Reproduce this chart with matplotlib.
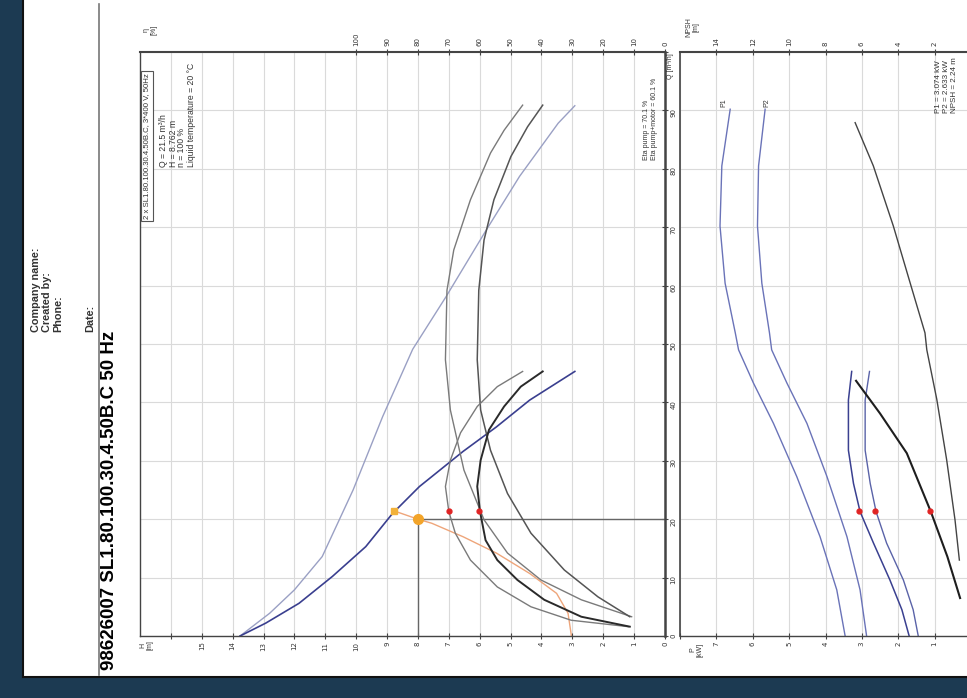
import numpy as np
import matplotlib.pyplot as plt
from matplotlib.patches import Rectangle
from matplotlib.lines import Line2D

# pump curves read off the (rotated) data sheet, Q in m3/h
# single pump QH
q_qh1 = [0, 2.2, 5.6, 10.2, 15.3, 21.0, 25.6, 27.0, 31.6, 35.8, 40.4, 45.3]
h_qh1 = [13.76, 12.93, 11.85, 10.77, 9.69, 8.82, 7.95, 7.62, 6.54, 5.46, 4.38, 2.92]
# two pumps in parallel QH
q_qh2 = [0, 3.9, 7.9, 13.6, 25.0, 37.6, 49.1, 58.1, 69.5, 78.7, 87.8, 90.8]
h_qh2 = [13.76, 12.8, 12.0, 11.1, 10.1, 9.14, 8.17, 7.09, 5.79, 4.71, 3.46, 2.92]
# system curve (orange)
q_sys = [0, 3.9, 7.3, 10.7, 14.2, 17.0, 19.3, 20.0, 21.4]
h_sys = [3.03, 3.14, 3.51, 4.38, 5.46, 6.54, 7.55, 8.0, 8.76]

# efficiency curves [%]
q_eta1 = [1.6, 2.7, 5.0, 8.4, 13.0, 17.6, 21.3, 25.6, 30.1, 34.8, 39.3, 42.7, 45.3]
eta1 = [11.9, 30.4, 43.4, 54.3, 63.0, 67.9, 70.0, 71.1, 69.5, 66.2, 60.8, 54.3, 46.1]
q_eta1m = [1.6, 3.3, 6.2, 9.6, 13.0, 16.4, 21.3, 25.6, 30.1, 35.3, 39.3, 42.7, 45.3]
eta1m = [11.4, 27.1, 39.1, 47.8, 54.3, 58.1, 59.9, 60.8, 59.7, 57.0, 52.1, 46.7, 39.6]
q_eta2 = [3.3, 6.2, 9.6, 14.2, 19.9, 28.4, 38.7, 47.3, 59.2, 66.1, 74.7, 82.7, 86.6, 90.9]
eta2 = [10.8, 27.1, 40.2, 51.0, 58.6, 65.1, 69.5, 71.1, 70.6, 68.4, 63.0, 56.5, 52.1, 46.1]
q_eta2m = [3.3, 6.7, 11.3, 17.6, 24.4, 31.8, 38.7, 47.3, 59.2, 67.8, 74.7, 82.1, 87.2, 90.9]
eta2m = [11.4, 21.7, 32.6, 43.4, 51.0, 56.5, 59.7, 60.8, 60.3, 58.6, 55.4, 49.9, 44.5, 39.6]

# power [kW]
q_p2x = [0, 7.9, 17.0, 27.3, 36.4, 43.3, 49.0, 51.9, 60.4, 70.2, 80.5, 90.2]
p1_2x = [3.46, 3.69, 4.15, 4.79, 5.43, 5.98, 6.39, 6.48, 6.76, 6.90, 6.85, 6.62]
p2_2x = [2.87, 3.05, 3.41, 3.96, 4.51, 5.06, 5.48, 5.54, 5.75, 5.87, 5.84, 5.66]
q_p1x = [0, 4.5, 9.6, 15.9, 21.3, 26.1, 31.8, 40.4, 45.3]
p1_1x = [1.70, 1.90, 2.23, 2.68, 3.05, 3.23, 3.37, 3.37, 3.28]
p2_1x = [1.45, 1.59, 1.86, 2.32, 2.61, 2.77, 2.91, 2.91, 2.79]

# NPSH [m]
q_npsh1 = [6.5, 13.6, 21.3, 31.3, 38.1, 43.7]
npsh1 = [0.60, 1.30, 2.21, 3.53, 5.0, 6.32]
q_npsh2 = [13.0, 19.9, 30.2, 40.5, 49.0, 51.9, 60.5, 70.2, 80.5, 87.9]
npsh2 = [0.64, 0.88, 1.34, 1.88, 2.43, 2.53, 3.35, 4.27, 5.37, 6.37]

# duty point
q_duty, h_duty = 21.4, 8.76
q_req, h_req = 20.0, 8.0
eta_duty = [70.1, 60.1]
p_duty = [3.074, 2.633]
npsh_duty = 2.24

W, HPX = 967, 698
FONT = 'Liberation Sans'


def fx(px):
    return px / W


def fy(py):
    return 1 - py / HPX


fig = plt.figure(figsize=(9.67, 6.98), dpi=100)
fig.patch.set_facecolor('white')

# dark background around the photographed page
bg = '#1c3a52'
fig.patches.append(Rectangle((0, 0), fx(23), 1, transform=fig.transFigure,
                             facecolor=bg, edgecolor='none', zorder=0))
fig.patches.append(Rectangle((0, 0), 1, fy(677), transform=fig.transFigure,
                             facecolor=bg, edgecolor='none', zorder=0))
fig.lines.append(Line2D([fx(23), fx(23)], [fy(677), 1], transform=fig.transFigure,
                        color='#111111', lw=1.5))
fig.lines.append(Line2D([fx(23), 1], [fy(677), fy(677)], transform=fig.transFigure,
                        color='#111111', lw=1.5))
fig.lines.append(Line2D([fx(99), fx(99)], [fy(675), fy(4)], transform=fig.transFigure,
                        color='#777777', lw=1.2))

# header texts (page is rotated)
fig.text(fx(110), fy(670), '98626007 SL1.80.100.30.4.50B.C 50 Hz', rotation=90,
         ha='center', va='bottom', fontsize=13.5, fontweight='bold', family=FONT)
for xp, s in [(36, 'Company name:'), (47, 'Created by:'), (58, 'Phone:'), (90, 'Date:')]:
    fig.text(fx(xp), fy(332), s, rotation=90, ha='center', va='bottom',
             fontsize=7.8, fontweight='bold', family=FONT, color='#333333')

grid_c = '#dadada'
spine_c = '#444444'
tick_kw = dict(labelsize=5, labelcolor='#333333', direction='inout', length=4,
               width=0.8, color=spine_c, labelrotation=90)

# ---- upper chart: H / eta vs Q ----
ax = fig.add_axes([fx(140), fy(636), fx(665) - fx(140), fy(52) - fy(636)])
ax.set_xlim(17, 0)
ax.set_ylim(0, 100)
ax.set_xticks(range(0, 17))
ax.set_xticklabels([str(i) if i <= 15 else '' for i in range(0, 17)])
ax.set_yticks(range(0, 101, 10))
ax.set_yticklabels([str(i) if i < 100 else '' for i in range(0, 101, 10)])
ax.yaxis.tick_right()
ax.tick_params(axis='both', pad=2, **tick_kw)
ax.grid(True, color=grid_c, lw=0.8)
ax.set_axisbelow(True)
for s in ax.spines.values():
    s.set_color(spine_c)
    s.set_linewidth(1.0)
ax.spines['right'].set_linewidth(1.8)
ax.spines['top'].set_linewidth(1.5)

ax.plot(h_qh2, q_qh2, color='#9aa0c4', lw=1.0)
ax.plot(h_qh1, q_qh1, color='#3a3f8f', lw=1.2)
ax.plot(h_sys, q_sys, color='#eea57a', lw=1.0)
ax.plot([h_req, 0], [q_req, q_req], color='#666666', lw=1.0)
ax.plot([h_req, h_req], [0, q_req], color='#666666', lw=1.0)
ax.plot([h_req], [q_req], 'o', color='#f2a42a', ms=7, zorder=5)
ax.plot([h_duty], [q_duty], 's', color='#f2b23a', ms=4.5, zorder=5)

ax_eta = ax.twiny()
ax_eta.set_xlim(170, 0)
ax_eta.set_xticks(range(0, 101, 10))
ax_eta.tick_params(axis='x', pad=2, **tick_kw)
ax_eta.plot(eta2, q_eta2, color='#7a7a7a', lw=1.0)
ax_eta.plot(eta2m, q_eta2m, color='#555555', lw=1.1)
ax_eta.plot(eta1, q_eta1, color='#7a7a7a', lw=1.0)
ax_eta.plot(eta1m, q_eta1m, color='#2a2a2a', lw=1.4)
ax_eta.plot(eta_duty, [q_duty, q_duty], 'o', color='#e02424', ms=3.5, zorder=6)
for s in ax_eta.spines.values():
    s.set_visible(False)

# ---- lower chart: P / NPSH vs Q ----
axp = fig.add_axes([fx(680), fy(636), fx(971) - fx(680), fy(52) - fy(636)])
axp.set_xlim(8, 0)
axp.set_ylim(0, 100)
axp.set_xticks(range(0, 9))
axp.set_xticklabels(['' if i in (0, 8) else str(i) for i in range(0, 9)])
axp.set_yticks(range(0, 101, 10))
axp.set_yticklabels([])
axp.tick_params(axis='y', length=0)
axp.tick_params(axis='x', pad=2, **tick_kw)
axp.grid(True, color=grid_c, lw=0.8)
axp.set_axisbelow(True)
for s in axp.spines.values():
    s.set_color(spine_c)
    s.set_linewidth(1.0)
axp.spines['top'].set_linewidth(1.5)
axp.spines['left'].set_linewidth(1.2)

axp.plot(p1_2x, q_p2x, color='#6a73b8', lw=1.0)
axp.plot(p2_2x, q_p2x, color='#6a73b8', lw=1.0)
axp.plot(p1_1x, q_p1x, color='#3a4090', lw=1.1)
axp.plot(p2_1x, q_p1x, color='#5a63a8', lw=1.0)
axp.plot(p_duty, [q_duty, q_duty], 'o', color='#e02424', ms=3.5, zorder=6)
axp.text(6.8, 90.5, 'P1', rotation=90, ha='center', va='bottom', fontsize=5,
         family=FONT, color='#333333')
axp.text(5.6, 90.5, 'P2', rotation=90, ha='center', va='bottom', fontsize=5,
         family=FONT, color='#333333')

axn = axp.twiny()
axn.set_xlim(16, 0)
axn.set_xticks(range(2, 15, 2))
axn.tick_params(axis='x', pad=2, **tick_kw)
axn.plot(npsh2, q_npsh2, color='#444444', lw=1.0)
axn.plot(npsh1, q_npsh1, color='#1e1e1e', lw=1.5)
axn.plot([npsh_duty], [q_duty], 'o', color='#e02424', ms=3.5, zorder=6)
for s in axn.spines.values():
    s.set_visible(False)

# axis captions
cap = dict(rotation=90, ha='center', va='center', fontsize=5, family=FONT,
           color='#333333', linespacing=1.0)
fig.text(fx(146), fy(645), 'H\n[m]', **cap)
fig.text(fx(150), fy(30), 'η\n[%]', **cap)
fig.text(fx(671), fy(66), 'Q [m³/h]', **cap)
fig.text(fx(692), fy(27), 'NPSH\n[m]', **cap)
fig.text(fx(696), fy(650), 'P\n[kW]', **cap)

# info texts
small = dict(rotation=90, ha='center', va='bottom', family=FONT, color='#333333')
fig.text(fx(147), fy(219), '2 x SL1.80.100.30.4.50B.C, 3*400 V, 50Hz', fontsize=5.6,
         bbox=dict(boxstyle='square,pad=0.3', facecolor='white', edgecolor='#555555', lw=0.8),
         **small)
for xp, s in [(164, 'Q = 21.5 m³/h'), (173, 'H = 8.762 m'), (182, 'n = 100 %'),
              (191, 'Liquid temperature = 20 °C')]:
    fig.text(fx(xp), fy(167), s, fontsize=6.2, **small)
fig.text(fx(647), fy(160), 'Eta pump = 70.1 %', fontsize=5, **small)
fig.text(fx(655), fy(160), 'Eta pump+motor = 60.1 %', fontsize=5, **small)
for xp, s in [(939, 'P1 = 3.074 kW'), (947, 'P2 = 2.633 kW'), (955, 'NPSH = 2.24 m')]:
    fig.text(fx(xp), fy(113), s, fontsize=5.8, **small)

fig.savefig('out.png', dpi=100)
